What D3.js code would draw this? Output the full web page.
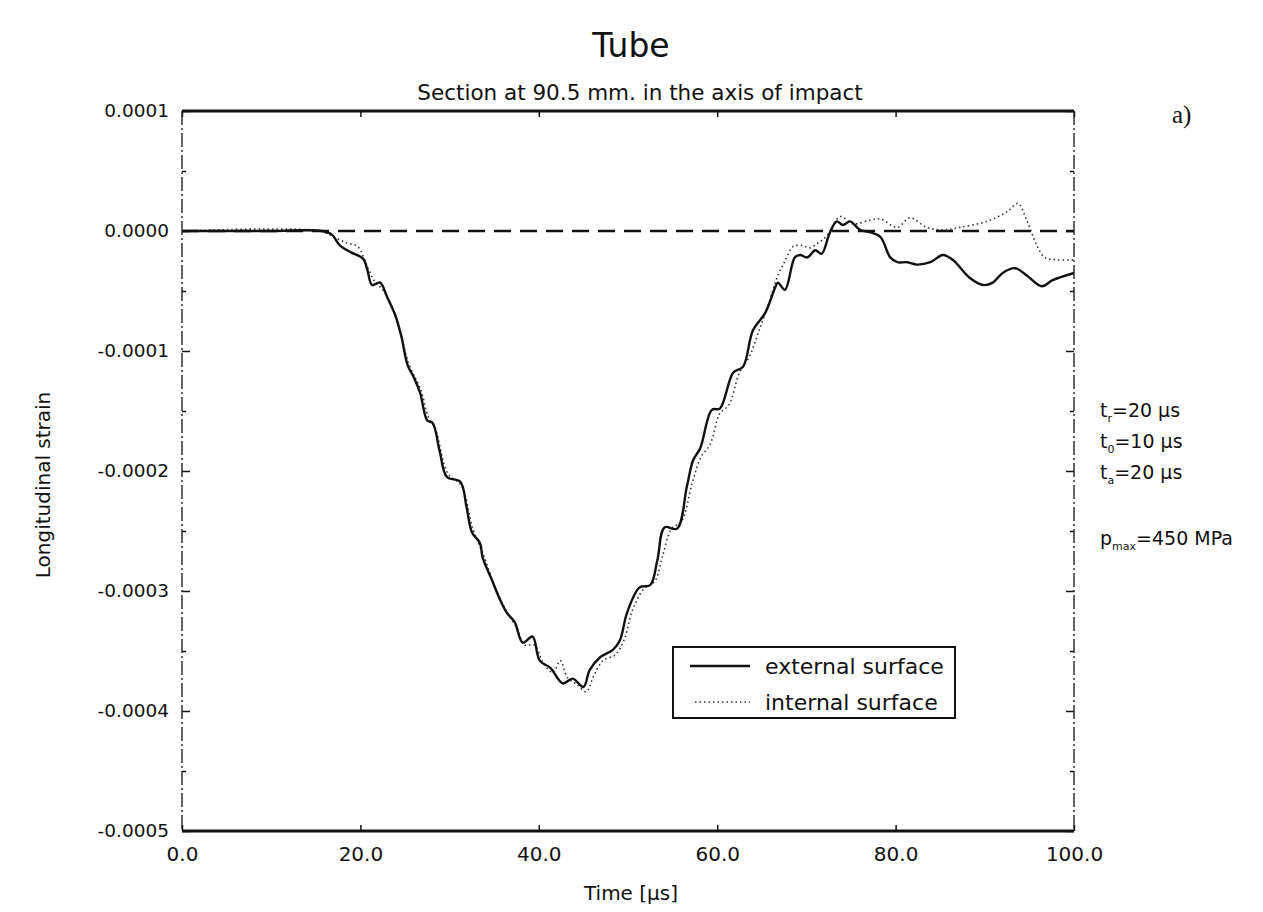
<!DOCTYPE html>
<html>
<head>
<meta charset="utf-8">
<script src="https://cdn.jsdelivr.net/npm/d3@7"></script>
<style>
  body { margin: 0; background: #fff; }
  text { font-family: "DejaVu Sans", "Liberation Sans", sans-serif; fill: #111; }
</style>
</head>
<body>
<div id="chart"></div>
<script>
// Strain values are given in units of 1e-4
const STRAIN_UNIT = 1e-4;

// External surface (solid line)
const externalTime = [0, 10, 15.7, 16.8, 17.7, 19.0, 20.3, 20.8, 21.3, 22.2,
  23.0, 23.9, 24.6, 25.3, 26.0, 26.7, 27.5, 28.1, 28.9, 29.7,
  31.2, 31.9, 32.5, 33.4, 33.7, 34.7, 35.7, 36.4, 37.3, 38.2,
  39.3, 40.1, 41.3, 42.7, 43.8, 45.0, 45.7, 46.9, 48.3, 49.1,
  49.9, 51.3, 52.5, 53.3, 54.1, 55.5, 56.6, 57.3, 58.1, 59.4,
  60.3, 61.8, 62.9, 64.0, 65.4, 66.5, 66.8, 67.6, 68.7, 69.3,
  70.1, 71.0, 71.7, 72.6, 73.4, 74.1, 74.9, 76.0, 77.1, 78.3,
  79.4, 80.2, 81.3, 82.4, 83.9, 85.3, 86.4, 88.3, 89.8, 90.9,
  92.0, 93.4, 94.7, 96.4, 97.6, 100];
const externalStrain = [0, 0, 0, -0.03, -0.12, -0.18, -0.23, -0.33, -0.45, -0.43,
  -0.55, -0.70, -0.88, -1.12, -1.22, -1.35, -1.58, -1.60, -1.84, -2.05,
  -2.09, -2.30, -2.51, -2.60, -2.72, -2.90, -3.08, -3.18, -3.26, -3.43,
  -3.38, -3.58, -3.64, -3.77, -3.73, -3.80, -3.66, -3.55, -3.49, -3.41,
  -3.18, -2.97, -2.95, -2.74, -2.47, -2.48, -2.13, -1.91, -1.81, -1.49,
  -1.48, -1.18, -1.13, -0.83, -0.68, -0.47, -0.43, -0.49, -0.22, -0.20,
  -0.22, -0.16, -0.19, -0.02, 0.08, 0.05, 0.08, 0.01, -0.01, -0.05,
  -0.22, -0.26, -0.26, -0.28, -0.26, -0.20, -0.24, -0.39, -0.45, -0.43,
  -0.35, -0.31, -0.37, -0.46, -0.41, -0.35];

// Internal surface (dotted line)
const internalTime = [0, 15.5, 17.0, 18.5, 19.7, 20.8, 21.6, 22.6, 24.0, 25.4,
  26.8, 27.6, 28.4, 29.8, 31.3, 32.6, 33.8, 35.0, 35.9, 36.6,
  37.5, 38.4, 39.5, 40.5, 41.6, 42.4, 43.2, 44.3, 45.3, 46.2,
  47.2, 48.6, 49.6, 50.5, 51.8, 53.0, 53.9, 54.9, 56.0, 57.2,
  58.2, 59.2, 60.3, 61.3, 62.5, 63.6, 64.6, 65.7, 66.8, 67.6,
  68.5, 69.5, 70.4, 71.3, 72.3, 73.8, 75.2, 77.1, 78.3, 80.2,
  81.6, 83.5, 85.3, 87.2, 90.2, 92.5, 93.7, 94.7, 95.9, 96.7,
  97.9, 100];
const internalStrain = [0, 0, -0.05, -0.10, -0.13, -0.30, -0.42, -0.50, -0.72, -1.10,
  -1.33, -1.55, -1.65, -2.02, -2.12, -2.48, -2.70, -2.95, -3.10, -3.20,
  -3.30, -3.45, -3.45, -3.60, -3.68, -3.58, -3.72, -3.78, -3.84, -3.70,
  -3.58, -3.53, -3.40, -3.16, -2.98, -2.92, -2.70, -2.48, -2.42, -2.10,
  -1.88, -1.78, -1.52, -1.45, -1.18, -1.05, -0.85, -0.62, -0.37, -0.25,
  -0.13, -0.12, -0.14, -0.10, -0.04, 0.12, 0.06, 0.09, 0.10, 0.03,
  0.11, 0.03, 0.01, 0.03, 0.08, 0.16, 0.23, 0.09, -0.13, -0.22,
  -0.24, -0.24];

// Axis ticks and labels
const xTicks = [0, 20, 40, 60, 80, 100];
const xTickLabels = ["0.0", "20.0", "40.0", "60.0", "80.0", "100.0"];
const yTicks = [0.0001, 0, -0.0001, -0.0002, -0.0003, -0.0004, -0.0005];
const yTickLabels = ["0.0001", "0.0000", "-0.0001", "-0.0002", "-0.0003", "-0.0004", "-0.0005"];
const yMinorTicks = [0.00005, -0.00005, -0.00015, -0.00025, -0.00035, -0.00045];

const legendLabels = ["external surface", "internal surface"];

const width = 1263, height = 912;
const margin = { top: 111, right: 189, bottom: 81, left: 182 };

const svg = d3.select("#chart").append("svg")
  .attr("width", width)
  .attr("height", height);

const x = d3.scaleLinear().domain([0, 100]).range([margin.left, width - margin.right]);
const y = d3.scaleLinear().domain([-0.0005, 0.0001]).range([height - margin.bottom, margin.top]);

const extData = externalTime.map((t, i) => ({ t, v: externalStrain[i] * STRAIN_UNIT }));
const intData = internalTime.map((t, i) => ({ t, v: internalStrain[i] * STRAIN_UNIT }));

// Titles
svg.append("text")
  .attr("x", 631).attr("y", 57)
  .attr("text-anchor", "middle")
  .style("font-size", "33px")
  .text("Tube");

svg.append("text")
  .attr("x", 640).attr("y", 100)
  .attr("text-anchor", "middle")
  .style("font-size", "21.5px")
  .text("Section at 90.5 mm. in the axis of impact");

svg.append("text")
  .attr("x", 1172).attr("y", 123)
  .style("font-family", "'Liberation Serif', serif")
  .style("font-size", "25px")
  .text("a)");

// Zero reference line
svg.append("line")
  .attr("x1", x(0)).attr("x2", x(100))
  .attr("y1", y(0)).attr("y2", y(0))
  .attr("stroke", "#111")
  .attr("stroke-width", 2.6)
  .attr("stroke-dasharray", "17,9");

// Curves
const line = d3.line()
  .x(d => x(d.t))
  .y(d => y(d.v))
  .curve(d3.curveCatmullRom.alpha(0.5));

svg.append("path")
  .datum(intData)
  .attr("d", line)
  .attr("fill", "none")
  .attr("stroke", "#333")
  .attr("stroke-width", 1.6)
  .attr("stroke-dasharray", "1.5,3");

svg.append("path")
  .datum(extData)
  .attr("d", line)
  .attr("fill", "none")
  .attr("stroke", "#111")
  .attr("stroke-width", 2.4)
  .attr("stroke-linejoin", "round");

// Axes (inward ticks)
const leftAxis = svg.append("g")
  .attr("transform", `translate(${margin.left},0)`)
  .call(d3.axisLeft(y).tickValues(yTicks).tickSize(-8).tickPadding(13)
    .tickFormat((d, i) => yTickLabels[i]));
leftAxis.select(".domain").remove();
leftAxis.selectAll("text").style("font-size", "18.5px").attr("font-family", null);

const leftMinor = svg.append("g")
  .attr("transform", `translate(${margin.left},0)`)
  .call(d3.axisLeft(y).tickValues(yMinorTicks).tickSize(-4).tickFormat(""));
leftMinor.select(".domain").remove();

const rightAxis = svg.append("g")
  .attr("transform", `translate(${width - margin.right},0)`)
  .call(d3.axisRight(y).tickValues(yTicks).tickSize(-8).tickFormat(""));
rightAxis.select(".domain").remove();

const rightMinor = svg.append("g")
  .attr("transform", `translate(${width - margin.right},0)`)
  .call(d3.axisRight(y).tickValues(yMinorTicks).tickSize(-4).tickFormat(""));
rightMinor.select(".domain").remove();

const bottomAxis = svg.append("g")
  .attr("transform", `translate(0,${height - margin.bottom})`)
  .call(d3.axisBottom(x).tickValues(xTicks).tickSize(-6).tickPadding(16)
    .tickFormat((d, i) => xTickLabels[i]));
bottomAxis.select(".domain").remove();
bottomAxis.selectAll("text").style("font-size", "20px").attr("font-family", null);

const topAxis = svg.append("g")
  .attr("transform", `translate(0,${margin.top})`)
  .call(d3.axisTop(x).tickValues(xTicks).tickSize(-6).tickFormat(""));
topAxis.select(".domain").remove();

svg.selectAll(".tick line").attr("stroke", "#111").attr("stroke-width", 1.5);

// Frame
svg.append("line")
  .attr("x1", x(0)).attr("x2", x(100)).attr("y1", y(0.0001)).attr("y2", y(0.0001))
  .attr("stroke", "#111").attr("stroke-width", 3);
svg.append("line")
  .attr("x1", x(0)).attr("x2", x(100)).attr("y1", y(-0.0005)).attr("y2", y(-0.0005))
  .attr("stroke", "#111").attr("stroke-width", 3);
svg.append("line")
  .attr("x1", x(0)).attr("x2", x(0)).attr("y1", y(0.0001)).attr("y2", y(-0.0005))
  .attr("stroke", "#222").attr("stroke-width", 1.4).attr("stroke-dasharray", "14,3,2,3");
svg.append("line")
  .attr("x1", x(100)).attr("x2", x(100)).attr("y1", y(0.0001)).attr("y2", y(-0.0005))
  .attr("stroke", "#222").attr("stroke-width", 1.4).attr("stroke-dasharray", "14,3,2,3");

// Axis titles
svg.append("text")
  .attr("x", 631).attr("y", 900)
  .attr("text-anchor", "middle")
  .style("font-size", "20px")
  .text("Time [µs]");

svg.append("text")
  .attr("transform", "translate(50,485) rotate(-90)")
  .attr("text-anchor", "middle")
  .style("font-size", "20px")
  .text("Longitudinal strain");

// Legend
const legend = svg.append("g").attr("transform", "translate(673,647)");
legend.append("rect")
  .attr("width", 282).attr("height", 71)
  .attr("fill", "#fff")
  .attr("stroke", "#111").attr("stroke-width", 2);
legend.append("line")
  .attr("x1", 17).attr("x2", 77).attr("y1", 19).attr("y2", 19)
  .attr("stroke", "#111").attr("stroke-width", 2.4);
legend.append("line")
  .attr("x1", 22).attr("x2", 77).attr("y1", 55).attr("y2", 55)
  .attr("stroke", "#333").attr("stroke-width", 1.6).attr("stroke-dasharray", "1.5,3");
legend.selectAll("text.leg")
  .data(legendLabels)
  .enter().append("text")
  .attr("class", "leg")
  .attr("x", 92)
  .attr("y", (d, i) => 27 + i * 36)
  .style("font-size", "22px")
  .text(d => d);

// Load parameters annotation
const params = svg.append("g").attr("transform", "translate(1100,0)");
const paramRows = [
  { main: "t", sub: "r", rest: "=20 µs", yy: 417 },
  { main: "t", sub: "0", rest: "=10 µs", yy: 448 },
  { main: "t", sub: "a", rest: "=20 µs", yy: 479 },
  { main: "p", sub: "max", rest: "=450 MPa", yy: 545 }
];
paramRows.forEach(r => {
  const t = params.append("text").attr("x", 0).attr("y", r.yy).style("font-size", "19px");
  t.append("tspan").text(r.main);
  t.append("tspan").attr("dy", 5).style("font-size", "11px").text(r.sub);
  t.append("tspan").attr("dy", -5).text(r.rest);
});
</script>
</body>
</html>
